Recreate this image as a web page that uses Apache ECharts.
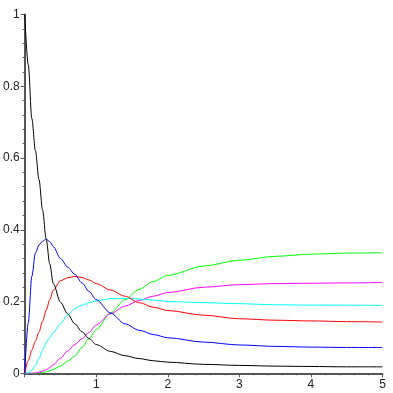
<!DOCTYPE html>
<html>
<head>
<meta charset="utf-8">
<script src="https://cdn.jsdelivr.net/npm/echarts@6/dist/echarts.min.js"></script>
<style>html,body{margin:0;padding:0;background:#fff}#c{width:393px;height:393px}</style>
</head>
<body>
<div id="c"></div>
<script>
const xs      = [0, 0.05, 0.1, 0.15, 0.2, 0.25, 0.3, 0.35, 0.4, 0.5, 0.6, 0.7, 0.8, 0.9, 1.0, 1.2, 1.4, 1.6, 1.8, 2.0, 2.5, 3.0, 3.5, 4.0, 4.5, 5.0];
const black   = [1.0, 0.86, 0.71, 0.62, 0.54, 0.455, 0.375, 0.305, 0.25, 0.198, 0.166, 0.138, 0.116, 0.097, 0.08, 0.061, 0.049, 0.041, 0.035, 0.031, 0.025, 0.022, 0.020, 0.019, 0.018, 0.018];
const blue    = [0, 0.14, 0.27, 0.335, 0.358, 0.368, 0.374, 0.367, 0.353, 0.32, 0.296, 0.276, 0.252, 0.228, 0.205, 0.168, 0.138, 0.12, 0.108, 0.099, 0.087, 0.079, 0.075, 0.073, 0.072, 0.072];
const red     = [0, 0.035, 0.065, 0.09, 0.115, 0.145, 0.175, 0.205, 0.232, 0.258, 0.266, 0.27, 0.267, 0.26, 0.25, 0.232, 0.215, 0.197, 0.184, 0.175, 0.162, 0.152, 0.148, 0.146, 0.144, 0.143];
const cyan    = [0, 0.001, 0.008, 0.022, 0.042, 0.064, 0.085, 0.1, 0.113, 0.138, 0.163, 0.18, 0.19, 0.197, 0.202, 0.208, 0.209, 0.207, 0.204, 0.2, 0.197, 0.194, 0.191, 0.19, 0.19, 0.189];
const magenta = [0, 0, 0, 0.001, 0.003, 0.006, 0.01, 0.016, 0.024, 0.042, 0.062, 0.08, 0.096, 0.114, 0.135, 0.166, 0.187, 0.203, 0.215, 0.225, 0.24, 0.247, 0.25, 0.251, 0.252, 0.253];
const green   = [0, 0, 0, 0, 0.001, 0.002, 0.004, 0.007, 0.011, 0.02, 0.034, 0.048, 0.072, 0.097, 0.122, 0.168, 0.205, 0.234, 0.256, 0.273, 0.299, 0.315, 0.326, 0.332, 0.335, 0.336];
const xTicks = [0, 1, 2, 3, 4, 5];
const yTicks = [0, 0.2, 0.4, 0.6, 0.8, 1];

const seriesDefs = [
  ['green', green, '#00ff00'],
  ['magenta', magenta, '#ff00ff'],
  ['cyan', cyan, '#00ffff'],
  ['red', red, '#ff0000'],
  ['blue', blue, '#0000ff'],
  ['black', black, '#000000']
];

const chart = echarts.init(document.getElementById('c'), null, {renderer: 'canvas'});
chart.setOption({
  animation: false,
  backgroundColor: '#ffffff',
  grid: {left: 22.5, right: 10.5, top: 14.5, bottom: 19.7},
  xAxis: {
    type: 'value', min: xTicks[0], max: xTicks[xTicks.length - 1], interval: 1,
    axisLine: {lineStyle: {color: '#555', width: 2}},
    axisTick: {length: 4, lineStyle: {color: '#555'}},
    minorTick: {show: true, splitNumber: 5, length: 2, lineStyle: {color: '#555'}},
    splitLine: {show: false},
    axisLabel: {color: '#222', fontFamily: 'Liberation Sans', fontSize: 12, margin: 5,
      formatter: v => v === 0 ? '' : String(v)}
  },
  yAxis: {
    type: 'value', min: yTicks[0], max: yTicks[yTicks.length - 1], interval: 0.2,
    axisLine: {show: true, lineStyle: {color: '#555', width: 2}},
    axisTick: {show: true, length: 4, lineStyle: {color: '#555'}},
    minorTick: {show: true, splitNumber: 5, length: 2, lineStyle: {color: '#555'}},
    splitLine: {show: false},
    axisLabel: {color: '#222', fontFamily: 'Liberation Sans', fontSize: 12, margin: 5}
  },
  series: seriesDefs.map(([name, ys, col]) => ({
    name, type: 'line', data: xs.map((x, i) => [x, ys[i]]),
    showSymbol: false, smooth: 0.3, smoothMonotone: 'x',
    lineStyle: {color: col, width: 1}, itemStyle: {color: col}
  }))
});
</script>
</body>
</html>
